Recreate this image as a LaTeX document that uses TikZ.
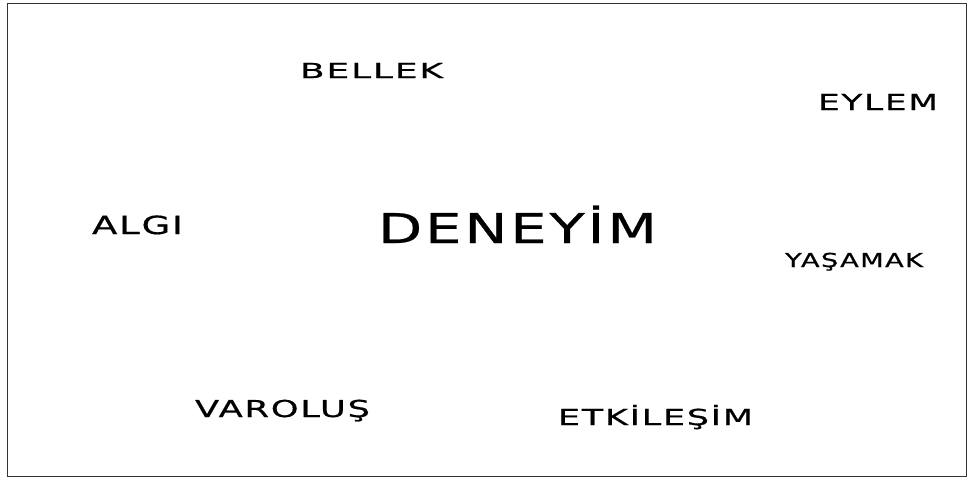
\documentclass[tikz,border=0pt]{standalone}
\usepackage{fontspec}
\setmainfont{DejaVu Sans}[FakeStretch=1.4, LetterSpace=7, FakeBold=0.6]
\usepackage{graphicx}
\newcommand\fitw[3]{\setbox0\hbox{\fontsize{#2}{#2}\selectfont #3}\pgfmathsetmacro\fitr{#1/\wd0}\scalebox{\fitr}[1]{\box0}}
\tikzset{
  word/.style={inner sep=0pt, anchor=base, text=black},
  frame/.style={draw=black!80, line width=1.6pt}
}
\begin{document}
\begin{tikzpicture}[x=1pt,y=-1pt]
\useasboundingbox (0,0) rectangle (968,479);
\draw[frame] (7.5,3.5) rectangle (966.5,476.5);
\node[word] (bellek) at (371.5,78) {\fitw{143}{20.6}{BELLEK}};
\node[word] (eylem) at (878,110) {\fitw{120}{22}{EYLEM}};
\node[word] (algi) at (137.5,234) {\fitw{91}{25}{ALGI}};
\node[word] (deneyim) at (517.5,243) {\fitw{279}{41}{DENEYİM}};
\node[word] (yasamak) at (854,267) {\fitw{138}{19.2}{YAŞAMAK}};
\node[word] (varolus) at (282.5,417) {\fitw{175}{23.3}{VAROLUŞ}};
\node[word] (etkilesim) at (655.5,425) {\fitw{195}{22}{ETKİLEŞİM}};
\end{tikzpicture}
\end{document}
